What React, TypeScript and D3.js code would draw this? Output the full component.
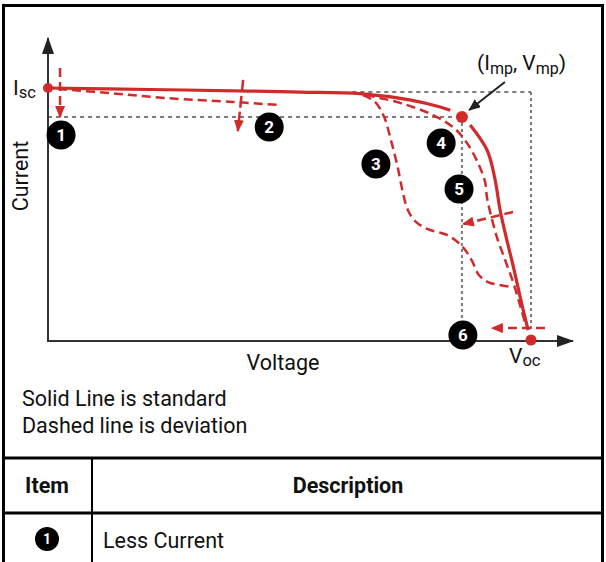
import * as d3 from "d3";

type Pt = [number, number];

// Normalised units: voltage as a fraction of Voc, current as a fraction of Isc
const standardBeforeMpp: Pt[] = [
  [0, 1.0], [0.211, 0.994], [0.418, 0.988], [0.522, 0.984], [0.646, 0.978],
  [0.749, 0.953], [0.812, 0.925], [0.833, 0.912],
];
const standardAfterMpp: Pt[] = [
  [0.874, 0.854], [0.909, 0.755], [0.925, 0.644], [0.936, 0.518],
  [0.95, 0.399], [0.965, 0.281], [0.979, 0.162], [0.994, 0.043],
];
const deviationShunt: Pt[] = [
  [0.021, 0.996], [0.128, 0.98], [0.246, 0.96], [0.383, 0.945], [0.476, 0.933],
];
const deviationStep: Pt[] = [
  [0.652, 0.972], [0.677, 0.945], [0.696, 0.885], [0.71, 0.794], [0.723, 0.696],
  [0.735, 0.585], [0.745, 0.518], [0.76, 0.474], [0.785, 0.443], [0.826, 0.419],
  [0.855, 0.379], [0.876, 0.324], [0.892, 0.261], [0.911, 0.233], [0.936, 0.221],
  [0.961, 0.213],
];
const deviationKnee: Pt[] = [
  [0.658, 0.972], [0.729, 0.941], [0.797, 0.893], [0.843, 0.838], [0.87, 0.775],
  [0.892, 0.696], [0.905, 0.628], [0.909, 0.565], [0.917, 0.498], [0.93, 0.407],
  [0.948, 0.312], [0.965, 0.221], [0.979, 0.13], [0.99, 0.059],
];

const mpp: Pt = [0.857, 0.885];
const isc: Pt = [0, 1];
const voc: Pt = [1, 0];
const iscLevel = 0.984;

// deviation arrows [from, to]
const deviationArrows: { from: Pt; to: Pt; dash: string }[] = [
  { from: [0.025, 1.079], to: [0.025, 0.885], dash: "9,5" },
  { from: [0.404, 1.032], to: [0.393, 0.83], dash: "12,4" },
  { from: [0.963, 0.51], to: [0.859, 0.462], dash: "9,5" },
  { from: [1.029, 0.051], to: [0.919, 0.051], dash: "9,5" },
];
const mppPointer: { from: Pt; to: Pt } = { from: [0.946, 1.024], to: [0.872, 0.913] };

const itemBadges: { n: number; at: Pt }[] = [
  { n: 1, at: [0.027, 0.814] },
  { n: 2, at: [0.458, 0.846] },
  { n: 3, at: [0.679, 0.7] },
  { n: 4, at: [0.814, 0.783] },
  { n: 5, at: [0.851, 0.601] },
  { n: 6, at: [0.859, 0.024] },
];

const axisEnd = { v: 1.087, i: 1.198 };

const legendLines = ["Solid Line is standard", "Dashed line is deviation"];
const tableHeaders = ["Item", "Description"];
const tableRows = [{ n: 1, text: "Less Current" }];

const RED = "#d12a2a";
const GREY = "#7b7b7b";
const FONT = "Roboto, 'Noto Sans', sans-serif";
const FS = 21.5;

export default function App() {
  const x = d3.scaleLinear().domain([0, 1]).range([48, 531]);
  const y = d3.scaleLinear().domain([0, 1]).range([341, 88]);
  const line = d3
    .line<Pt>()
    .x((d) => x(d[0]))
    .y((d) => y(d[1]))
    .curve(d3.curveCatmullRom.alpha(0.5));

  return (
    <svg
      width={606}
      height={562}
      style={{ position: "absolute", left: 0, top: 0, fontFamily: FONT }}
    >
      <defs>
        <marker id="redHead" markerUnits="userSpaceOnUse" markerWidth="12" markerHeight="10"
          refX="11" refY="5" orient="auto">
          <path d="M0,0 L12,5 L0,10 Z" fill={RED} />
        </marker>
        <marker id="axisHead" markerUnits="userSpaceOnUse" markerWidth="17" markerHeight="12"
          refX="16" refY="6" orient="auto">
          <path d="M0,0 L17,6 L0,12 Z" fill="#222" />
        </marker>
        <marker id="blackHead" markerUnits="userSpaceOnUse" markerWidth="12" markerHeight="10"
          refX="11" refY="5" orient="auto">
          <path d="M0,0 L12,5 L0,10 Z" fill="#222" />
        </marker>
      </defs>

      <rect x={3.5} y={5.5} width={599} height={620} fill="white" stroke="black" strokeWidth={3} />

      {/* guide lines */}
      <line x1={x(0)} x2={x(mpp[0])} y1={y(mpp[1])} y2={y(mpp[1])}
        stroke={GREY} strokeWidth={2} strokeDasharray="4,4" />
      <line x1={x(mpp[0])} x2={x(mpp[0])} y1={y(mpp[1])} y2={y(0)}
        stroke={GREY} strokeWidth={2} strokeDasharray="3,3" />
      <line x1={x(0.63)} x2={x(voc[0])} y1={y(iscLevel)} y2={y(iscLevel)}
        stroke={GREY} strokeWidth={2} strokeDasharray="4,4" />
      <line x1={x(voc[0])} x2={x(voc[0])} y1={y(iscLevel)} y2={y(0.04)}
        stroke={GREY} strokeWidth={2} strokeDasharray="3,3" />

      {/* axes */}
      <line x1={x(0)} x2={x(0)} y1={y(0) + 1} y2={y(axisEnd.i)}
        stroke="#333" strokeWidth={2} markerEnd="url(#axisHead)" />
      <line x1={x(0) - 1} x2={x(axisEnd.v)} y1={y(0)} y2={y(0)}
        stroke="#333" strokeWidth={2} markerEnd="url(#axisHead)" />

      {/* curves */}
      <path d={line(standardBeforeMpp)!} fill="none" stroke={RED} strokeWidth={3.2} />
      <path d={line(standardAfterMpp)!} fill="none" stroke={RED} strokeWidth={3.2} />
      {[deviationShunt, deviationStep, deviationKnee].map((c, i) => (
        <path key={i} d={line(c)!} fill="none" stroke={RED} strokeWidth={2.5}
          strokeDasharray="9,5" />
      ))}

      {deviationArrows.map((a, i) => (
        <line key={i} x1={x(a.from[0])} y1={y(a.from[1])} x2={x(a.to[0])} y2={y(a.to[1])}
          stroke={RED} strokeWidth={2.5} strokeDasharray={a.dash} markerEnd="url(#redHead)" />
      ))}
      <line x1={x(mppPointer.from[0])} y1={y(mppPointer.from[1])}
        x2={x(mppPointer.to[0])} y2={y(mppPointer.to[1])}
        stroke="#222" strokeWidth={2} markerEnd="url(#blackHead)" />

      {/* key points */}
      <circle cx={x(isc[0])} cy={y(isc[1])} r={5} fill={RED} />
      <circle cx={x(voc[0])} cy={y(voc[1]) - 1} r={5.5} fill={RED} />
      <circle cx={x(mpp[0])} cy={y(mpp[1])} r={6} fill={RED} />

      {itemBadges.map((b) => (
        <g key={b.n} transform={`translate(${x(b.at[0])},${y(b.at[1])})`}>
          <circle r={14.5} fill="black" />
          <text textAnchor="middle" dy="0.36em" fill="white" fontWeight="bold" fontSize={17}>
            {b.n}
          </text>
        </g>
      ))}

      {/* labels */}
      <text x={x(isc[0]) - 35} y={y(isc[1]) + 7} fontSize={21} fill="#111">
        I<tspan fontSize={16.5} dy={3}>sc</tspan>
      </text>
      <text x={x(voc[0]) - 22} y={y(voc[1]) + 22} fontSize={21} fill="#111">
        V<tspan fontSize={16.5} dy={3}>oc</tspan>
      </text>
      <text x={477} y={70} fontSize={21} fill="#111">
        (I<tspan fontSize={16} dy={4}>mp</tspan>
        <tspan dy={-4}>, V</tspan>
        <tspan fontSize={16} dy={4}>mp</tspan>
        <tspan dy={-4}>)</tspan>
      </text>
      <text x={283} y={370} textAnchor="middle" fontSize={FS} fill="#111">Voltage</text>
      <text transform={`translate(28,${176}) rotate(-90)`} textAnchor="middle"
        fontSize={FS} fill="#111">Current</text>

      {legendLines.map((t, i) => (
        <text key={t} x={22} y={406 + i * 27} fontSize={FS} fill="#111">{t}</text>
      ))}

      {/* table */}
      <line x1={3} x2={603} y1={458} y2={458} stroke="black" strokeWidth={3} />
      <line x1={3} x2={603} y1={513} y2={513} stroke="black" strokeWidth={3} />
      <line x1={92} x2={92} y1={458} y2={562} stroke="black" strokeWidth={2} />
      <text x={47} y={493} textAnchor="middle" fontSize={FS} fontWeight="bold" fill="#111">
        {tableHeaders[0]}
      </text>
      <text x={348} y={493} textAnchor="middle" fontSize={FS} fontWeight="bold" fill="#111">
        {tableHeaders[1]}
      </text>
      {tableRows.map((r, i) => (
        <g key={r.n}>
          <g transform={`translate(47,${539 + i * 50})`}>
            <circle r={12} fill="black" />
            <text textAnchor="middle" dy="0.36em" fill="white" fontWeight="bold" fontSize={14}>
              {r.n}
            </text>
          </g>
          <text x={103} y={548 + i * 50} fontSize={FS} fill="#111">{r.text}</text>
        </g>
      ))}
    </svg>
  );
}
